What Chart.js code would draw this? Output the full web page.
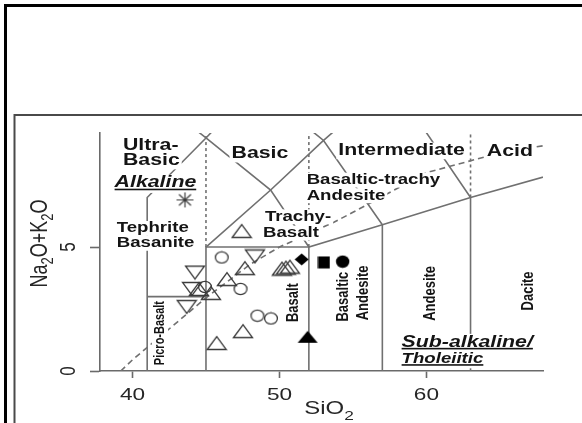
<!DOCTYPE html>
<html>
<head>
<meta charset="utf-8">
<title>TAS diagram</title>
<script src="https://cdn.jsdelivr.net/npm/chart.js@4.4.1/dist/chart.umd.min.js"></script>
<style>
  html, body { margin: 0; padding: 0; background: #fff; }
  canvas { display: block; }
</style>
</head>
<body>
<canvas id="tas" width="582" height="423"></canvas>
<script>
// ---- Axis ticks -------------------------------------------------------
const xTickValues = [40, 50, 60];
const yTickValues = [0, 5];

// ---- TAS field boundaries, points are [SiO2, Na2O+K2O] ----------------
const foiditeEdge      = [[41, 0], [41, 7], [45, 9.4], [48.4, 11.5]];
const picrobasaltTop   = [[41, 3], [45, 3]];
const basaltField      = [[45, 0], [45, 5], [52, 5], [52, 0]];
const trachybasaltEdge = [[45, 5], [49.4, 7.3], [53, 9.3], [57.6, 11.7]];
const subalkalineTop   = [[41, 11.3], [45, 9.4], [49.4, 7.3], [52, 5], [57, 5.9], [63, 7], [69, 8]];
const andesiteEdge     = [[48.4, 11.5], [53, 9.3], [57, 5.9], [57, 0]];
const daciteEdge       = [[57.6, 11.7], [63, 7], [63, 0]];
// ultrabasic / basic / intermediate / acid divisions
const silicaDividers   = [[[45, 5], [45, 12]], [[52, 5], [52, 12]], [[63, 7], [63, 12]]];
// alkaline / sub-alkaline divide
const divideSiO2 = [39.2, 40, 43.2, 45, 48, 50, 53.7, 55, 60, 65, 77.4];
const divideAlk  = [0, 0.45, 2.05, 2.95, 4.3, 5.0, 6.0, 6.4, 8.0, 8.8, 10];

// ---- Samples ----------------------------------------------------------
const openTriangles = [
  [47.43, 5.65], [47.65, 4.15], [46.43, 3.71], [44.52, 3.31], [45.34, 3.15],
  [47.52, 1.61], [45.73, 1.13], [50.17, 4.13], [50.44, 4.17], [50.71, 4.21]
];
const invertedTriangles = [[44.25, 3.97], [44.05, 3.31], [43.69, 2.58], [48.33, 4.62]];
const openCircles = [[46.07, 4.58], [47.35, 3.31], [44.93, 3.39], [48.50, 2.23], [49.42, 2.12]];
const filledDiamonds  = [[51.51, 4.50]];
const filledSquares   = [[53.03, 4.38]];
const filledCircles   = [[54.30, 4.41]];
const filledTriangles = [[51.92, 1.38]];
const asterisks       = [[43.57, 6.90]];

// ---- Field names --------------------------------------------------------
const fieldLabels = [
  { text: 'Ultra-', at: [39.35, 9.11], size: 16, align: 'left' },
  { text: 'Basic', at: [39.35, 8.47], size: 16, align: 'left' },
  { text: 'Alkaline', at: [41.56, 7.58], size: 16, italic: true, underline: true },
  { text: 'Basic', at: [48.67, 8.75], size: 16 },
  { text: 'Intermediate', at: [58.31, 8.88], size: 16 },
  { text: 'Acid', at: [65.68, 8.87], size: 16 },
  { text: 'Basaltic-trachy', at: [51.85, 7.70], size: 14, align: 'left' },
  { text: 'Andesite', at: [51.85, 7.07], size: 14, align: 'left' },
  { text: 'Trachy-', at: [49.01, 6.22], size: 14, align: 'left' },
  { text: 'Basalt', at: [48.88, 5.56], size: 14, align: 'left' },
  { text: 'Tephrite', at: [38.93, 5.75], size: 14, align: 'left' },
  { text: 'Basanite', at: [38.93, 5.15], size: 14, align: 'left' },
  { text: 'Picro-Basalt', at: [41.87, 1.53], size: 11, vertical: true },
  { text: 'Basalt', at: [50.94, 2.76], size: 13, vertical: true },
  { text: 'Basaltic', at: [54.34, 3.00], size: 13, vertical: true },
  { text: 'Andesite', at: [55.70, 3.15], size: 13, vertical: true },
  { text: 'Andesite', at: [60.24, 3.13], size: 13, vertical: true },
  { text: 'Dacite', at: [66.93, 3.23], size: 13, vertical: true },
  { text: 'Sub-alkaline/', at: [58.31, 1.16], size: 16, italic: true, underline: true, align: 'left' },
  { text: 'Tholeiitic', at: [58.31, 0.47], size: 14, italic: true, underline: true, align: 'left' }
];

const TEXT_STRETCH = 1.33;
const FONT = '"Liberation Sans", Arial, Helvetica, sans-serif';
const LINE_COLOR = '#707070';
const AXIS_COLOR = '#6a6a6a';
const TEXT_COLOR = '#141414';
const MARK_COLOR = '#3c3c3c';

// ---- Marker glyphs ------------------------------------------------------
function glyph(w, h, paint) {
  const c = document.createElement('canvas');
  c.width = w; c.height = h;
  const g = c.getContext('2d');
  g.lineJoin = 'miter';
  paint(g, w, h);
  return c;
}
const markers = {
  triUp: glyph(22, 16, (g) => {
    g.strokeStyle = MARK_COLOR; g.lineWidth = 1.3;
    g.beginPath(); g.moveTo(1.5, 14.5); g.lineTo(11, 1.5); g.lineTo(20.5, 14.5); g.closePath(); g.stroke();
  }),
  triDown: glyph(22, 16, (g) => {
    g.strokeStyle = MARK_COLOR; g.lineWidth = 1.3;
    g.beginPath(); g.moveTo(1.5, 1.5); g.lineTo(20.5, 1.5); g.lineTo(11, 14.5); g.closePath(); g.stroke();
  }),
  circle: glyph(16, 14, (g) => {
    g.strokeStyle = MARK_COLOR; g.lineWidth = 1.3;
    g.beginPath(); g.ellipse(8, 7, 6.4, 5.6, 0, 0, Math.PI * 2); g.stroke();
  }),
  square: glyph(13, 13, (g) => { g.fillStyle = '#000'; g.fillRect(0.5, 0.5, 12, 12); }),
  dot: glyph(15, 14, (g) => {
    g.fillStyle = '#000'; g.beginPath(); g.ellipse(7.5, 7, 6.7, 6.2, 0, 0, Math.PI * 2); g.fill();
  }),
  diamond: glyph(15, 13, (g) => {
    g.fillStyle = '#000'; g.beginPath();
    g.moveTo(7.5, 0.5); g.lineTo(14.5, 6.5); g.lineTo(7.5, 12.5); g.lineTo(0.5, 6.5); g.closePath(); g.fill();
  }),
  triFilled: glyph(22, 14, (g) => {
    g.fillStyle = '#000'; g.beginPath();
    g.moveTo(1, 13); g.lineTo(11, 1); g.lineTo(21, 13); g.closePath(); g.fill();
  }),
  star: glyph(19, 17, (g) => {
    g.strokeStyle = MARK_COLOR; g.lineWidth = 1.2; g.beginPath();
    g.moveTo(1, 8.5); g.lineTo(18, 8.5);
    g.moveTo(9.5, 1); g.lineTo(9.5, 16);
    g.moveTo(3.5, 3); g.lineTo(15.5, 14);
    g.moveTo(15.5, 3); g.lineTo(3.5, 14);
    g.stroke();
  })
};

// ---- Dataset helpers ----------------------------------------------------
const toPoints = (arr) => arr.map(([x, y]) => ({ x, y }));
const boundary = (pts, dash) => ({
  data: toPoints(pts), showLine: true, fill: false, tension: 0,
  borderColor: LINE_COLOR, borderWidth: 1.6, borderDash: dash || [],
  pointRadius: 0, pointHoverRadius: 0, order: 2
});
const samples = (pts, style) => ({
  data: toPoints(pts), showLine: false, pointStyle: style,
  pointRadius: 8, pointHoverRadius: 8, order: 1, isMarker: true
});

const datasets = [
  boundary(foiditeEdge), boundary(picrobasaltTop), boundary(basaltField),
  boundary(trachybasaltEdge), boundary(subalkalineTop), boundary(andesiteEdge),
  boundary(daciteEdge),
  ...silicaDividers.map((d) => boundary(d, [3, 3])),
  boundary(divideSiO2.map((x, i) => [x, divideAlk[i]]), [6, 4]),
  samples(openTriangles, markers.triUp),
  samples(invertedTriangles, markers.triDown),
  samples(openCircles, markers.circle),
  samples(filledDiamonds, markers.diamond),
  samples(filledSquares, markers.square),
  samples(filledCircles, markers.dot),
  samples(filledTriangles, markers.triFilled),
  samples(asterisks, markers.star)
];

// ---- Text helpers -------------------------------------------------------
function label(ctx, text, px, py, o) {
  ctx.save();
  ctx.translate(px, py);
  ctx.scale(TEXT_STRETCH, 1);
  if (o.vertical) ctx.rotate(-Math.PI / 2);
  ctx.font = (o.italic ? 'italic ' : '') + (o.bold === false ? '' : 'bold ') + o.size + 'px ' + FONT;
  ctx.textBaseline = 'middle';
  ctx.textAlign = 'left';
  const w = ctx.measureText(text).width;
  const x0 = o.align === 'left' ? 0 : -w / 2;
  if (o.knockout !== false) {
    const h = o.size * 0.92;
    ctx.fillStyle = '#fff';
    ctx.fillRect(x0 - 1.5, -h / 2 - 1, w + 3, h + (o.underline ? 3.5 : 2));
  }
  ctx.fillStyle = o.color || TEXT_COLOR;
  ctx.fillText(text, x0, 0);
  if (o.underline) ctx.fillRect(x0, o.size * 0.4 - 0.8, w, 1.6);
  ctx.restore();
}

function formula(ctx, runs, px, py, size, vertical) {
  ctx.save();
  ctx.translate(px, py);
  ctx.scale(TEXT_STRETCH, 1);
  if (vertical) ctx.rotate(-Math.PI / 2);
  ctx.textBaseline = 'alphabetic';
  ctx.textAlign = 'left';
  ctx.fillStyle = '#262626';
  const fontOf = (r) => (r.sub ? Math.round(size * 0.72) : size) + 'px ' + FONT;
  let total = 0;
  runs.forEach((r) => { ctx.font = fontOf(r); total += ctx.measureText(r.t).width; });
  let x = -total / 2;
  const base = size * 0.36;
  runs.forEach((r) => {
    ctx.font = fontOf(r);
    ctx.fillText(r.t, x, base + (r.sub ? size * 0.28 : 0));
    x += ctx.measureText(r.t).width;
  });
  ctx.restore();
}

// ---- Plugin: frame, field names, axis texts ----------------------------
const tasDecor = {
  id: 'tasDecor',
  beforeDraw(chart) {
    const ctx = chart.ctx;
    ctx.save();
    ctx.fillStyle = '#fff';
    ctx.fillRect(0, 0, chart.width, chart.height);
    ctx.fillStyle = '#000';
    ctx.fillRect(4, 4, chart.width - 4, 3);
    ctx.fillRect(4, 4, 3, chart.height - 4);
    ctx.strokeStyle = '#4a4a4a';
    ctx.lineWidth = 2;
    ctx.beginPath();
    ctx.moveTo(14.5, chart.height); ctx.lineTo(14.5, 115); ctx.lineTo(chart.width, 115);
    ctx.stroke();
    ctx.restore();
    chart.$fieldsDrawn = false;
  },
  beforeDatasetDraw(chart, args) {
    if (chart.$fieldsDrawn || !chart.data.datasets[args.index].isMarker) return;
    chart.$fieldsDrawn = true;
    const { x, y } = chart.scales;
    fieldLabels.forEach((f) => {
      label(chart.ctx, f.text, x.getPixelForValue(f.at[0]), y.getPixelForValue(f.at[1]), f);
    });
  },
  afterDraw(chart) {
    const ctx = chart.ctx;
    const { x, y } = chart.scales;
    const tickFont = { size: 17, bold: false, knockout: false, color: '#262626' };
    x.ticks.forEach((t) => label(ctx, String(t.value), x.getPixelForValue(t.value), 395, tickFont));
    y.ticks.forEach((t) => label(ctx, String(t.value), 69, y.getPixelForValue(t.value),
      Object.assign({ vertical: true }, tickFont)));
    formula(ctx, [{ t: 'SiO' }, { t: '2', sub: true }], 329, 408, 18, false);
    formula(ctx, [{ t: 'Na' }, { t: '2', sub: true }, { t: 'O+K' }, { t: '2', sub: true }, { t: 'O' }],
      38, 243.5, 18, true);
  }
};

// ---- Chart --------------------------------------------------------------
new Chart(document.getElementById('tas'), {
  type: 'scatter',
  data: { datasets },
  plugins: [tasDecor],
  options: {
    responsive: false,
    animation: false,
    devicePixelRatio: 1,
    events: [],
    layout: { padding: { left: 0, top: 133, right: 39, bottom: 0 } },
    plugins: { legend: { display: false }, tooltip: { enabled: false } },
    scales: {
      x: {
        type: 'linear', min: 37.79, max: 67.93,
        afterBuildTicks: (s) => { s.ticks = xTickValues.map((v) => ({ value: v })); },
        afterFit: (s) => { s.height = 52; },
        ticks: { display: false },
        grid: { drawOnChartArea: false, drawTicks: true, tickLength: 7, tickColor: AXIS_COLOR, tickWidth: 1.6 },
        border: { display: true, color: AXIS_COLOR, width: 1.6 }
      },
      y: {
        type: 'linear', min: 0, max: 9.6,
        afterBuildTicks: (s) => { s.ticks = yTickValues.map((v) => ({ value: v })); },
        afterFit: (s) => { s.width = 100; },
        ticks: { display: false },
        grid: { drawOnChartArea: false, drawTicks: true, tickLength: 10, tickColor: AXIS_COLOR, tickWidth: 1.6 },
        border: { display: true, color: AXIS_COLOR, width: 1.6 }
      }
    }
  }
});
</script>
</body>
</html>
